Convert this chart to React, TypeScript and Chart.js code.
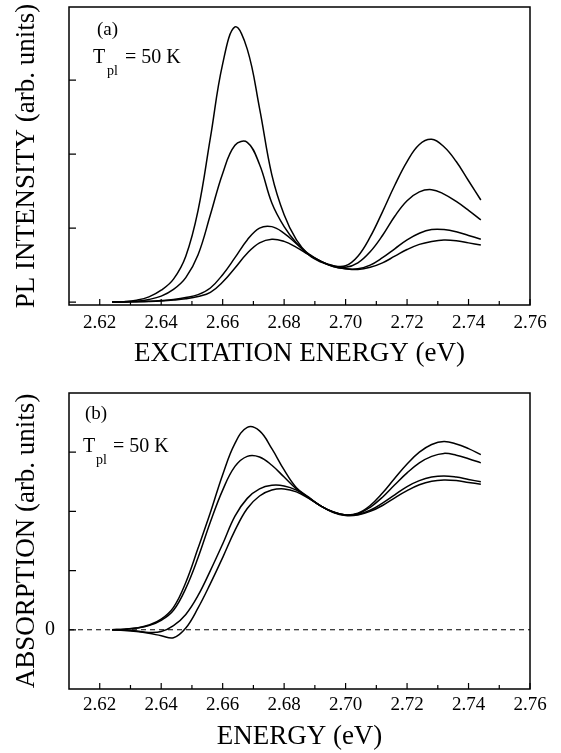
import React, { useEffect, useRef } from "react";
import { Chart, registerables } from "chart.js";

Chart.register(...registerables);

// ---------------- data ----------------
const energy = [
  2.624, 2.628, 2.632, 2.636, 2.64, 2.644, 2.648, 2.652, 2.656, 2.66, 2.664,
  2.668, 2.672, 2.676, 2.68, 2.684, 2.688, 2.692, 2.696, 2.7, 2.704, 2.708,
  2.712, 2.716, 2.72, 2.724, 2.728, 2.732, 2.736, 2.74, 2.744,
];

// (a) PL intensity curves
const plCurve1 = [0, 0.005, 0.025, 0.07, 0.16, 0.31, 0.62, 1.24, 2.22, 3.22, 3.72, 3.42, 2.62, 1.72, 1.18, 0.84, 0.64, 0.54, 0.49, 0.49, 0.62, 0.88, 1.22, 1.58, 1.9, 2.13, 2.2, 2.1, 1.9, 1.64, 1.38];
const plCurve2 = [0, 0.003, 0.012, 0.035, 0.08, 0.17, 0.33, 0.64, 1.18, 1.74, 2.12, 2.16, 1.86, 1.34, 1.02, 0.8, 0.64, 0.55, 0.49, 0.47, 0.53, 0.68, 0.9, 1.16, 1.37, 1.49, 1.52, 1.46, 1.36, 1.24, 1.11];
const plCurve3 = [0, 0.002, 0.005, 0.01, 0.02, 0.035, 0.06, 0.1, 0.19, 0.37, 0.6, 0.84, 1.0, 1.02, 0.93, 0.79, 0.65, 0.55, 0.48, 0.45, 0.45, 0.5, 0.6, 0.72, 0.84, 0.93, 0.98, 0.98, 0.95, 0.9, 0.85];
const plCurve4 = [0, 0.001, 0.004, 0.008, 0.015, 0.027, 0.045, 0.075, 0.13, 0.27, 0.46, 0.66, 0.8, 0.85, 0.82, 0.74, 0.64, 0.55, 0.48, 0.45, 0.44, 0.47, 0.53, 0.62, 0.71, 0.78, 0.82, 0.84, 0.83, 0.8, 0.77];

// (b) absorption curves
const absCurveA = [0, 0.01, 0.03, 0.08, 0.18, 0.38, 0.8, 1.38, 1.98, 2.62, 3.15, 3.42, 3.36, 3.06, 2.7, 2.4, 2.24, 2.09, 1.99, 1.94, 1.97, 2.1, 2.31, 2.56, 2.8, 3.0, 3.13, 3.18, 3.14, 3.06, 2.96];
const absCurveB = [0, 0.01, 0.03, 0.07, 0.16, 0.33, 0.7, 1.22, 1.82, 2.36, 2.76, 2.93, 2.92, 2.78, 2.58, 2.38, 2.23, 2.09, 1.99, 1.94, 1.96, 2.07, 2.24, 2.45, 2.65, 2.82, 2.93, 2.98, 2.95, 2.89, 2.82];
const absCurveC = [0, -0.005, -0.02, -0.045, -0.03, 0.07, 0.26, 0.58, 1.0, 1.45, 1.92, 2.22, 2.38, 2.44, 2.43, 2.36, 2.23, 2.09, 1.99, 1.94, 1.95, 2.02, 2.14, 2.28, 2.42, 2.52, 2.58, 2.6, 2.58, 2.54, 2.5];
const absCurveD = [0, -0.01, -0.03, -0.06, -0.1, -0.135, 0.03, 0.37, 0.78, 1.22, 1.68, 2.05, 2.26, 2.36, 2.38, 2.33, 2.22, 2.09, 1.98, 1.93, 1.94, 2.0, 2.1, 2.23, 2.35, 2.45, 2.51, 2.53, 2.52, 2.49, 2.46];

const zeroLineX = [2.61, 2.76];
const zeroLineY = [0, 0];

// ticks
const xMajorTicks = [2.62, 2.64, 2.66, 2.68, 2.7, 2.72, 2.74, 2.76];
const xMinorTicks = [2.63, 2.65, 2.67, 2.69, 2.71, 2.73, 2.75];
const yTicksA = [0, 1, 2, 3];
const yTicksB = [0, 1, 2, 3];
const yLabelsB = [0];

const FONT = '"Liberation Serif", "Times New Roman", serif';

type PanelText = { label: string; lx: number; ly: number; tx: number; ty: number; subX: number; subY: number; restX: number };

function makeFramePlugin(yTicks: number[], text: PanelText) {
  return {
    id: "frameTicks",
    afterDatasetsDraw(chart: any) {
      const { ctx, chartArea: a, scales } = chart;
      ctx.save();
      ctx.strokeStyle = "#000";
      ctx.lineWidth = 1.5;
      ctx.strokeRect(a.left, a.top, a.right - a.left, a.bottom - a.top);
      ctx.lineWidth = 1.2;
      ctx.beginPath();
      for (const v of xMajorTicks) {
        const x = scales.x.getPixelForValue(v);
        ctx.moveTo(x, a.bottom);
        ctx.lineTo(x, a.bottom - 6);
      }
      for (const v of xMinorTicks) {
        const x = scales.x.getPixelForValue(v);
        ctx.moveTo(x, a.bottom);
        ctx.lineTo(x, a.bottom - 4);
      }
      for (const v of yTicks) {
        const y = scales.y.getPixelForValue(v);
        ctx.moveTo(a.left, y);
        ctx.lineTo(a.left + 7, y);
      }
      ctx.stroke();
      ctx.fillStyle = "#000";
      ctx.textBaseline = "alphabetic";
      ctx.textAlign = "left";
      ctx.font = `19px ${FONT}`;
      ctx.fillText(text.label, text.lx, text.ly);
      ctx.font = `20px ${FONT}`;
      ctx.fillText("T", text.tx, text.ty);
      ctx.fillText("= 50 K", text.restX, text.ty);
      ctx.font = `14px ${FONT}`;
      ctx.fillText("pl", text.subX, text.subY);
      ctx.restore();
    },
  };
}

function lineDataset(values: number[]) {
  return {
    data: energy.map((x, i) => ({ x, y: values[i] })),
    borderColor: "#000",
    borderWidth: 1.5,
    pointRadius: 0,
    fill: false,
    tension: 0.4,
  };
}

function makeConfig(opts: {
  height: number;
  areaTop: number;
  areaBottom: number;
  datasets: any[];
  yMin: number;
  yMax: number;
  xTitle: string;
  yTitle: string;
  xTitlePad: number;
  tickPad: number;
  yLabels: number[] | null;
  yTicks: number[];
  text: PanelText;
}) {
  return {
    type: "line" as const,
    data: { datasets: opts.datasets },
    plugins: [makeFramePlugin(opts.yTicks, opts.text)],
    options: {
      responsive: false,
      animation: false as const,
      layout: { padding: { top: opts.areaTop, right: 31, left: 0, bottom: 0 } },
      plugins: { legend: { display: false }, tooltip: { enabled: false } },
      scales: {
        x: {
          type: "linear" as const,
          min: 2.61,
          max: 2.76,
          grid: { display: false, drawTicks: false },
          border: { display: false },
          afterBuildTicks: (s: any) => {
            s.ticks = xMajorTicks.map((v) => ({ value: v }));
          },
          afterFit: (s: any) => {
            s.height = opts.height - opts.areaBottom;
          },
          ticks: {
            autoSkip: false,
            maxRotation: 0,
            padding: opts.tickPad,
            color: "#000",
            font: { family: FONT, size: 19 },
            callback: (v: any) => Number(v).toFixed(2),
          },
          title: {
            display: true,
            text: opts.xTitle,
            color: "#000",
            font: { family: FONT, size: 27 },
            padding: { top: 0, bottom: opts.xTitlePad },
          },
        },
        y: {
          type: "linear" as const,
          min: opts.yMin,
          max: opts.yMax,
          grid: { display: false, drawTicks: false },
          border: { display: false },
          afterBuildTicks: (s: any) => {
            if (opts.yLabels) s.ticks = opts.yLabels.map((v) => ({ value: v }));
          },
          afterFit: (s: any) => {
            s.width = 69;
            s.paddingTop = 0;
            s.paddingBottom = 0;
          },
          ticks: {
            display: !!opts.yLabels,
            padding: 14,
            color: "#000",
            font: { family: FONT, size: 20 },
            callback: (v: any) => String(v),
          },
          title: {
            display: true,
            text: opts.yTitle,
            color: "#000",
            font: { family: FONT, size: 27 },
            padding: { top: 11, bottom: 0 },
          },
        },
      },
    },
  };
}

export default function App() {
  const refA = useRef<HTMLCanvasElement>(null);
  const refB = useRef<HTMLCanvasElement>(null);

  useEffect(() => {
    const chartA = new Chart(
      refA.current as HTMLCanvasElement,
      makeConfig({
        height: 372,
        areaTop: 7,
        areaBottom: 305,
        datasets: [plCurve1, plCurve2, plCurve3, plCurve4].map(lineDataset),
        yMin: -0.04,
        yMax: 3.99,
        xTitle: "EXCITATION ENERGY (eV)",
        yTitle: "PL INTENSITY (arb. units)",
        xTitlePad: 2,
        tickPad: 7,
        yLabels: null,
        yTicks: yTicksA,
        text: { label: "(a)", lx: 97, ly: 35, tx: 93, ty: 63, subX: 107, subY: 75, restX: 125 },
      }) as any
    );
    const zeroDs = {
      data: zeroLineX.map((x, i) => ({ x, y: zeroLineY[i] })),
      borderColor: "#000",
      borderWidth: 1.1,
      borderDash: [5, 4],
      pointRadius: 0,
      fill: false,
    };
    const chartB = new Chart(
      refB.current as HTMLCanvasElement,
      makeConfig({
        height: 373,
        areaTop: 13,
        areaBottom: 309,
        datasets: [zeroDs, ...[absCurveA, absCurveB, absCurveC, absCurveD].map(lineDataset)],
        yMin: -1,
        yMax: 4,
        xTitle: "ENERGY (eV)",
        yTitle: "ABSORPTION (arb. units)",
        xTitlePad: 0,
        tickPad: 5,
        yLabels: yLabelsB,
        yTicks: yTicksB,
        text: { label: "(b)", lx: 85, ly: 39, tx: 83, ty: 72, subX: 96, subY: 84, restX: 113 },
      }) as any
    );
    return () => {
      chartA.destroy();
      chartB.destroy();
    };
  }, []);

  return (
    <div style={{ position: "absolute", left: 0, top: 0, width: 561, height: 753, background: "#fff" }}>
      <canvas ref={refA} width={561} height={372} style={{ position: "absolute", left: 0, top: 0 }} />
      <canvas ref={refB} width={561} height={373} style={{ position: "absolute", left: 0, top: 380 }} />
    </div>
  );
}
